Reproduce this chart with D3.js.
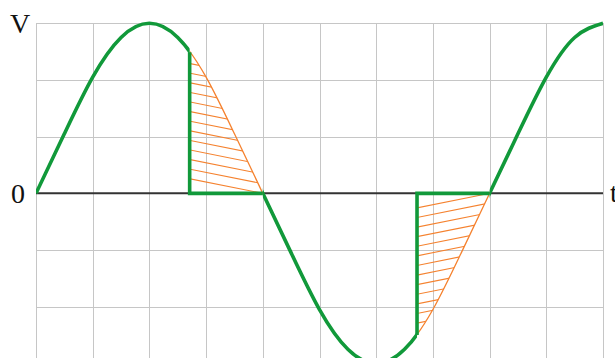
<!DOCTYPE html>
<html>
<head>
<meta charset="utf-8">
<script src="https://cdn.jsdelivr.net/npm/d3@7"></script>
<style>
  html, body { margin: 0; padding: 0; background: #fff; }
  svg { display: block; }
</style>
</head>
<body>
<svg id="chart" width="615" height="358"></svg>
<script>
// ---- data ----
const tUnits  = [0, 0.5, 1, 1.5, 2, 2.5, 3, 3.5, 4, 4.5, 5, 5.5, 6, 6.5, 7, 7.5, 8, 8.5, 9, 9.5, 10];
const vValues = [0, 1.05, 2.05, 2.75, 3, 2.75, 2.05, 1.05, 0, -1.05, -2.05, -2.75, -3, -2.75, -2.05, -1.05, 0, 1.05, 2.05, 2.75, 3];
const chopT   = [2.71, 6.72];      // firing instants (vertical jumps)
const chopV   = [2.49, -2.5];      // curve value at the firing instants
const zeroT   = [4, 8];            // following zero crossings
const xGrid   = [0, 1, 2, 3, 4, 5, 6, 7, 8, 9, 10];
const yGrid   = [-3, -2, -1, 0, 1, 2, 3];
const axisLabels = { v: "V", zero: "0", t: "t" };

// ---- layout ----
const svg = d3.select("#chart");
const x = d3.scaleLinear().domain([0, 10]).range([36, 603]);
const y = d3.scaleLinear().domain([-3, 3]).range([363.4, 23.3]);

const green = "#11993a";
const orange = "#f5822f";

const defs = svg.append("defs");

// grid
const grid = svg.append("g").attr("stroke", "#c6c6c6").attr("stroke-width", 1).attr("shape-rendering", "crispEdges");
grid.selectAll("line.v").data(xGrid).join("line")
  .attr("x1", d => Math.round(x(d)) + 0.5).attr("x2", d => Math.round(x(d)) + 0.5)
  .attr("y1", y(3)).attr("y2", y(-3));
grid.selectAll("line.h").data(yGrid.filter(d => d !== 0)).join("line")
  .attr("x1", x(0)).attr("x2", x(10))
  .attr("y1", d => Math.round(y(d)) + 0.5).attr("y2", d => Math.round(y(d)) + 0.5);

// zero axis
svg.append("line")
  .attr("x1", x(0)).attr("x2", x(10))
  .attr("y1", y(0)).attr("y2", y(0))
  .attr("stroke", "#333").attr("stroke-width", 2);

const pts = tUnits.map((t, i) => [t, vValues[i]]);
const curve = d3.curveNatural;
const line = d3.line().x(d => x(d[0])).y(d => y(d[1])).curve(curve);
const area = d3.area().x(d => x(d[0])).y0(y(0)).y1(d => y(d[1])).curve(curve);

// clip paths
defs.append("clipPath").attr("id", "areaClip").append("path").attr("d", area(pts));
const greenRanges = [[0, chopT[0]], [zeroT[0], chopT[1]], [zeroT[1], 10]];
const cg = defs.append("clipPath").attr("id", "greenClip");
greenRanges.forEach(r => cg.append("rect")
  .attr("x", x(r[0])).attr("width", x(r[1]) - x(r[0]))
  .attr("y", -50).attr("height", 500));
chopT.forEach((c, i) => {
  defs.append("clipPath").attr("id", "hatchX" + i).append("rect")
    .attr("x", x(c)).attr("width", x(zeroT[i]) - x(c))
    .attr("y", -50).attr("height", 500);
});

// hatched regions
chopT.forEach((c, i) => {
  const outer = svg.append("g").attr("clip-path", `url(#hatchX${i})`);
  const inner = outer.append("g").attr("clip-path", "url(#areaClip)");
  const x0 = x(c), x1 = x(zeroT[i]);
  const slope = i === 0 ? 0.2 : -0.2;
  const xe = x1, ye = y(0);
  const offs = d3.range(-30, 1).map(k => k * 9.6);
  inner.selectAll("line").data(offs).join("line")
    .attr("x1", x0 - 5).attr("x2", x1 + 5)
    .attr("y1", d => ye + (i === 0 ? d : -d) + slope * (x0 - 5 - xe))
    .attr("y2", d => ye + (i === 0 ? d : -d) + slope * (x1 + 5 - xe))
    .attr("stroke", orange).attr("stroke-width", 1.1);
  // orange continuation of the original curve
  outer.append("path").attr("d", line(pts))
    .attr("fill", "none").attr("stroke", orange).attr("stroke-width", 1.3);
});

// green waveform
svg.append("path").attr("d", line(pts)).attr("clip-path", "url(#greenClip)")
  .attr("fill", "none").attr("stroke", green).attr("stroke-width", 3.6)
  .attr("stroke-linejoin", "round");
chopT.forEach((c, i) => {
  svg.append("path")
    .attr("d", d3.line()([[x(c), y(chopV[i])], [x(c), y(0)], [x(zeroT[i]), y(0)]]))
    .attr("fill", "none").attr("stroke", green).attr("stroke-width", 3.6)
    .attr("stroke-linejoin", "miter").attr("stroke-linecap", "butt");
});

// labels
const lab = svg.append("g").attr("font-family", "'Liberation Serif', 'DejaVu Serif', serif")
  .attr("font-size", 28).attr("fill", "#111");
lab.append("text").attr("x", 10).attr("y", 33).text(axisLabels.v);
lab.append("text").attr("x", 11).attr("y", 203).text(axisLabels.zero);
lab.append("text").attr("x", 610).attr("y", 202).text(axisLabels.t);
</script>
</body>
</html>
